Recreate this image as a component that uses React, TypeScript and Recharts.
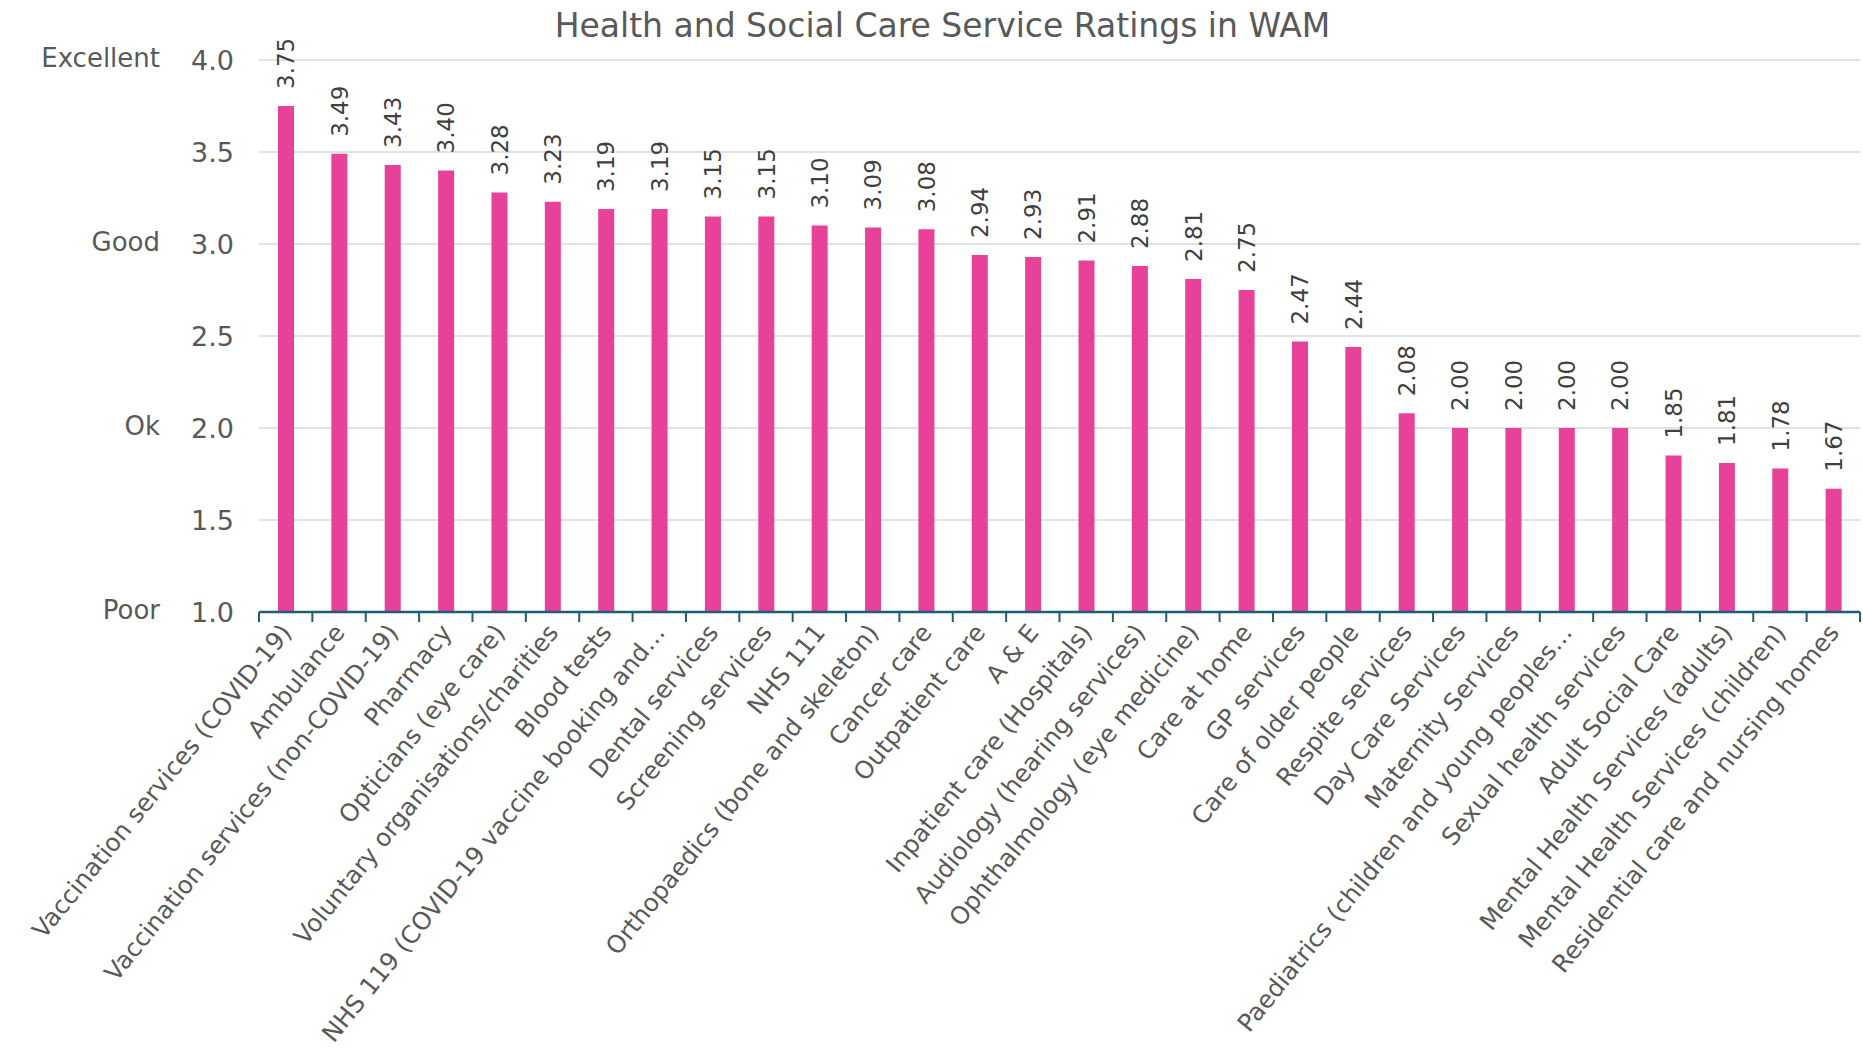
import React from "react";
import { Bar, BarChart, CartesianGrid, LabelList, XAxis, YAxis } from "recharts";

const CATEGORIES = [
  "Vaccination services (COVID-19)",
  "Ambulance",
  "Vaccination services (non-COVID-19)",
  "Pharmacy",
  "Opticians (eye care)",
  "Voluntary organisations/charities",
  "Blood tests",
  "NHS 119 (COVID-19 vaccine booking and…",
  "Dental services",
  "Screening services",
  "NHS 111",
  "Orthopaedics (bone and skeleton)",
  "Cancer care",
  "Outpatient care",
  "A & E",
  "Inpatient care (Hospitals)",
  "Audiology (hearing services)",
  "Ophthalmology (eye medicine)",
  "Care at home",
  "GP services",
  "Care of older people",
  "Respite services",
  "Day Care Services",
  "Maternity Services",
  "Paediatrics (children and young peoples…",
  "Sexual health services",
  "Adult Social Care",
  "Mental Health Services (adults)",
  "Mental Health Services (children)",
  "Residential care and nursing homes",
];

const RATINGS = [
  3.75, 3.49, 3.43, 3.4, 3.28, 3.23, 3.19, 3.19, 3.15, 3.15, 3.1, 3.09, 3.08,
  2.94, 2.93, 2.91, 2.88, 2.81, 2.75, 2.47, 2.44, 2.08, 2.0, 2.0, 2.0, 2.0,
  1.85, 1.81, 1.78, 1.67,
];

const Y_TICKS = [1, 1.5, 2, 2.5, 3, 3.5, 4];
const Y_WORDS: Record<number, string> = { 1: "Poor", 2: "Ok", 3: "Good", 4: "Excellent" };

const TITLE = "Health and Social Care Service Ratings in WAM";

const data = CATEGORIES.map((name, i) => ({ name, value: RATINGS[i] }));

const W = 1863;
const H = 1056;
const Y_AXIS_W = 259;
const MARGIN = { top: 60, right: 3, left: 0, bottom: 0 };
const X_AXIS_H = 444;
const BAND = (W - Y_AXIS_W - MARGIN.left - MARGIN.right) / CATEGORIES.length;

const FONT = "'DejaVu Sans', Verdana, sans-serif";
const TEXT = "#595959";
const AXIS = "#1F5C7A";

function YTick(props: any) {
  const { x, y, payload } = props;
  const word = Y_WORDS[payload.value];
  return (
    <g>
      <text x={x} y={y} dy="0.36em" textAnchor="end" fill={TEXT} fontSize={27} fontFamily={FONT}>
        {payload.value.toFixed(1)}
      </text>
      {word && (
        <text x={x - 74} y={y - 2} dy="0.36em" textAnchor="end" fill={TEXT} fontSize={26} fontFamily={FONT}>
          {word}
        </text>
      )}
    </g>
  );
}

function XTick(props: any) {
  const { x, y, payload, index } = props;
  const axisY = y - 8;
  const last = index === CATEGORIES.length - 1;
  const tx = x + 7;
  const ty = axisY + 21;
  return (
    <g>
      <line x1={x - BAND / 2} x2={x - BAND / 2} y1={axisY} y2={axisY + 10} stroke={AXIS} strokeWidth={2} />
      {last && (
        <line x1={x + BAND / 2} x2={x + BAND / 2} y1={axisY} y2={axisY + 10} stroke={AXIS} strokeWidth={2} />
      )}
      <text
        x={tx}
        y={ty}
        textAnchor="end"
        fill={TEXT}
        fontSize={24.5}
        fontFamily={FONT}
        transform={`rotate(-51, ${tx}, ${ty})`}
      >
        {payload.value}
      </text>
    </g>
  );
}

function ValueLabel(props: any) {
  const { x, y, width, value } = props;
  const cx = x + width / 2;
  const cy = y - 17;
  return (
    <text
      x={cx}
      y={cy}
      dy="0.36em"
      textAnchor="start"
      fill="#404040"
      fontSize={23}
      fontFamily={FONT}
      transform={`rotate(-90, ${cx}, ${cy})`}
    >
      {Number(value).toFixed(2)}
    </text>
  );
}

export default function App() {
  return (
    <div style={{ position: "absolute", left: 0, top: 0, width: W, height: H, background: "#fff" }}>
      <div
        style={{
          position: "absolute",
          left: 0,
          width: W + 22,
          top: 6,
          textAlign: "center",
          fontFamily: FONT,
          fontSize: 33,
          color: TEXT,
        }}
      >
        {TITLE}
      </div>
      <BarChart width={W} height={H} data={data} margin={MARGIN}>
        <CartesianGrid stroke="#D9D9D9" strokeWidth={1.5} vertical={false} />
        <XAxis
          dataKey="name"
          interval={0}
          height={X_AXIS_H}
          tickLine={false}
          tickSize={0}
          tickMargin={8}
          axisLine={{ stroke: AXIS, strokeWidth: 2.5 }}
          tick={<XTick />}
        />
        <YAxis
          width={Y_AXIS_W}
          domain={[1, 4]}
          ticks={Y_TICKS}
          tickLine={false}
          axisLine={false}
          tickSize={0}
          tickMargin={25}
          tick={<YTick />}
        />
        <Bar dataKey="value" fill="#E8419A" barSize={16} isAnimationActive={false}>
          <LabelList dataKey="value" content={<ValueLabel />} />
        </Bar>
      </BarChart>
    </div>
  );
}
